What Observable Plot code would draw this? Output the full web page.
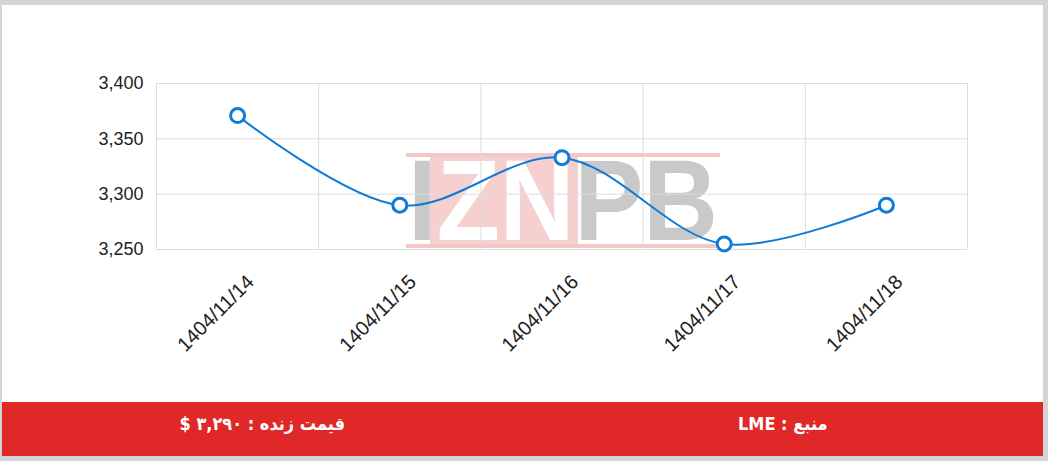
<!DOCTYPE html>
<html>
<head>
<meta charset="utf-8">
<script src="https://cdn.jsdelivr.net/npm/d3@7"></script>
<script src="https://cdn.jsdelivr.net/npm/@observablehq/plot@0.6"></script>
<style>
  html, body { margin: 0; padding: 0; }
  body { width: 1048px; height: 461px; background: #d4d4d4; position: relative; overflow: hidden; font-family: "Liberation Sans", Arial, sans-serif; }
  #card { position: absolute; left: 2px; top: 5px; width: 1041px; height: 451px; background: #fff; }
  #wm { position: absolute; left: 406px; top: 153px; }
  #chart { position: absolute; left: 0; top: 0; }
  #footer { position: absolute; left: 2px; top: 402px; width: 1041px; height: 54px; background: #e02828; display: flex; color: #fff; font-family: "DejaVu Sans Condensed", "DejaVu Sans", sans-serif; font-weight: bold; font-size: 18px; }
  #footer div { flex: 1; display: flex; align-items: center; justify-content: center; padding-bottom: 12px; }
</style>
</head>
<body>
<div id="card"></div>
<svg id="wm" width="314" height="96" viewBox="0 0 314 96">
  <rect x="0" y="0" width="314" height="4" fill="#f4c6c6"/>
  <rect x="0" y="91" width="314" height="4" fill="#f4c6c6"/>
  <rect x="24" y="4" width="148" height="87" fill="#f6cfcf"/>
  <text y="87" font-family="Liberation Sans, Arial, sans-serif" font-weight="bold" font-size="115" textLength="310" lengthAdjust="spacingAndGlyphs" x="2"><tspan fill="#c9c9c9">I</tspan><tspan fill="#ffffff">ZN</tspan><tspan fill="#c9c9c9">PB</tspan></text>
</svg>
<div id="chart"></div>
<div id="footer">
  <div dir="rtl">قیمت زنده : ۳,۲۹۰ $</div>
  <div dir="rtl">منبع : LME</div>
</div>
<script>
const dates = ["1404/11/14", "1404/11/15", "1404/11/16", "1404/11/17", "1404/11/18"];
const prices = [3371, 3290, 3333, 3255, 3290];
const yTicks = [3250, 3300, 3350, 3400];

const data = dates.map((d, i) => ({i, date: d, price: prices[i]}));
const bounds = d3.range(dates.length + 1).map(k => k - 0.5);
const blue = "#0f7bd6";

const chart = Plot.plot({
  width: 1048,
  height: 400,
  marginLeft: 156,
  marginRight: 81,
  marginTop: 83,
  marginBottom: 151,
  style: {background: "transparent", fontFamily: "'Liberation Sans', Arial, sans-serif", color: "#222"},
  x: {type: "linear", domain: [-0.5, dates.length - 0.5]},
  y: {domain: [3250, 3400]},
  marks: [
    Plot.ruleY(yTicks, {stroke: "#dcdcdc", strokeWidth: 1, strokeOpacity: 1}),
    Plot.ruleX(bounds, {stroke: "#dcdcdc", strokeWidth: 1, strokeOpacity: 1}),
    Plot.axisY({ticks: yTicks, tickFormat: d3.format(","), tickSize: 0, tickPadding: 13, fontSize: 18, label: null}),
    Plot.axisX({ticks: d3.range(dates.length), tickFormat: i => dates[i], tickSize: 0, tickPadding: 29, tickRotate: -45, fontSize: 20, dx: 13, label: null}),
    Plot.line(data, {x: "i", y: "price", curve: "catmull-rom", stroke: blue, strokeWidth: 2}),
    Plot.dot(data, {x: "i", y: "price", r: 7, fill: "white", stroke: blue, strokeWidth: 3})
  ]
});
document.getElementById("chart").appendChild(chart);
</script>
</body>
</html>
